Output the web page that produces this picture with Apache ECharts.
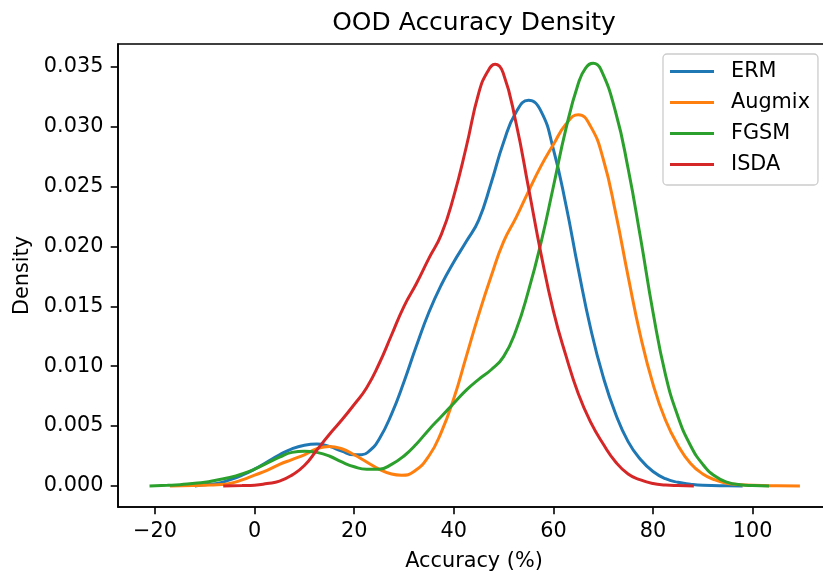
<!DOCTYPE html>
<html><head><meta charset="utf-8">
<script src="https://cdn.jsdelivr.net/npm/echarts@6/dist/echarts.min.js"></script>
<style>html,body{margin:0;padding:0;background:#fff}#c{width:823px;height:572px}</style>
</head><body><div id="c"></div>
<script>
const seriesNames = ['ERM', 'Augmix', 'FGSM', 'ISDA'];
const seriesColors = ['#1f77b4', '#ff7f0e', '#2ca02c', '#d62728'];

const ermX = [-12, -10, -7.5, -5, -2.5, 0, 2.5, 5, 7.5, 10, 12.5, 15, 17.5, 20, 21.5, 23, 25, 27.5, 30, 32.5, 35, 37.5, 40, 42.5, 45, 47.5, 50, 52.5, 55, 57.5, 60, 62.5, 65, 67.5, 70, 72.5, 75, 77.5, 80, 82.5, 85, 87.5, 90, 95, 98];
const ermY = [0, 0.0001, 0.0002, 0.0005, 0.0009, 0.0014, 0.0020, 0.0026, 0.0031, 0.0034, 0.0035, 0.0033, 0.0029, 0.0026, 0.0026, 0.0029, 0.0039, 0.0060, 0.0087, 0.0117, 0.0145, 0.0168, 0.0187, 0.0204, 0.0222, 0.0253, 0.0287, 0.0312, 0.0322, 0.0313, 0.0281, 0.0235, 0.0181, 0.0131, 0.0091, 0.0060, 0.0037, 0.0022, 0.0012, 0.0006, 0.0003, 0.00015, 0.00006, 0.00001, 0];

const augX = [-17, -12.5, -10, -7.5, -5, -2.5, 0, 2.5, 5, 7.5, 10, 12.5, 15, 17.5, 20, 22.5, 25, 27.5, 29.5, 32, 35, 37.5, 40, 42.5, 45, 47.5, 50, 52.5, 55, 57.5, 60, 62.5, 65, 67.5, 70, 72.5, 75, 77.5, 80, 82.5, 85, 87.5, 90, 92.5, 95, 100, 105, 109.5];
const augY = [0, 0.00003, 0.00006, 0.0001, 0.0002, 0.0005, 0.0009, 0.0013, 0.0018, 0.0022, 0.0026, 0.0031, 0.0033, 0.0031, 0.0026, 0.0020, 0.0014, 0.0010, 0.0009, 0.0012, 0.0025, 0.0045, 0.0073, 0.0108, 0.0143, 0.0175, 0.0204, 0.0224, 0.0246, 0.0267, 0.0285, 0.0302, 0.0310, 0.0300, 0.0273, 0.0228, 0.0175, 0.0125, 0.0085, 0.0055, 0.0034, 0.0019, 0.0010, 0.0005, 0.0002, 0.00005, 0.00001, 0];

const fgsmX = [-21.1, -17.5, -15, -12.5, -10, -7.5, -5, -2.5, 0, 2.5, 5, 7.5, 10, 12.5, 15, 17.5, 20, 22.5, 25, 27.5, 30, 32.5, 35, 37.5, 40, 42.5, 45, 47.5, 50, 52.5, 55, 57.5, 60, 62.5, 65, 66.5, 68, 69.5, 72.5, 75, 77.5, 80, 82.5, 85, 87.5, 90, 92.5, 95, 97.5, 100, 103.3];
const fgsmY = [0, 0.00005, 0.0001, 0.0002, 0.0003, 0.0005, 0.0007, 0.0010, 0.0014, 0.0019, 0.0024, 0.0028, 0.0029, 0.0028, 0.0025, 0.0020, 0.0016, 0.0014, 0.0014, 0.0018, 0.0025, 0.0035, 0.0047, 0.0058, 0.0069, 0.0080, 0.0089, 0.0097, 0.0108, 0.0130, 0.0163, 0.0203, 0.0250, 0.0298, 0.0336, 0.0349, 0.0353, 0.0348, 0.0312, 0.0265, 0.0207, 0.0145, 0.0093, 0.0058, 0.0034, 0.0018, 0.0008, 0.0003, 0.0001, 0.00003, 0];

const isdaX = [-6.3, -2.5, 0, 2.5, 5, 7.5, 10, 12.5, 15, 17.5, 20, 22.5, 25, 27.5, 30, 32.5, 35, 37.5, 40, 42.5, 45, 46.8, 48.3, 49.9, 52.5, 55, 57.5, 60, 62.5, 65, 67.5, 70, 72.5, 75, 77.5, 80, 82.5, 85, 88.2];
const isdaY = [0, 0.00003, 0.00006, 0.0002, 0.0004, 0.0009, 0.0017, 0.0030, 0.0043, 0.0055, 0.0068, 0.0082, 0.0102, 0.0126, 0.0150, 0.0169, 0.0190, 0.0210, 0.0242, 0.0283, 0.0328, 0.0346, 0.0352, 0.0345, 0.0303, 0.0249, 0.0194, 0.0146, 0.0109, 0.0077, 0.0053, 0.0035, 0.0020, 0.0010, 0.0005, 0.0002, 0.00008, 0.00003, 0];

const xTicks = [-20, 0, 20, 40, 60, 80, 100];
const yTicks = [0, 0.005, 0.01, 0.015, 0.02, 0.025, 0.03, 0.035];

const allX = [ermX, augX, fgsmX, isdaX];
const allY = [ermY, augY, fgsmY, isdaY];

const FONT = 'DejaVu Sans';
const FS = 20.8;

const chart = echarts.init(document.getElementById('c'), null, {renderer: 'canvas'});
chart.setOption({
  animation: false,
  backgroundColor: '#fff',
  title: {
    text: 'OOD Accuracy Density',
    left: 474, top: 11, textAlign: 'center', padding: 0,
    textStyle: {fontFamily: FONT, fontSize: 25, fontWeight: 'normal', color: '#000'}
  },
  legend: {
    data: seriesNames,
    orient: 'vertical',
    left: 663, top: 54,
    icon: 'rect', itemWidth: 44, itemHeight: 3, itemGap: 10,
    padding: [7, 8, 10, 7],
    backgroundColor: 'rgba(255,255,255,0.8)',
    borderColor: '#cccccc', borderWidth: 1.3, borderRadius: 4,
    textStyle: {fontFamily: FONT, fontSize: FS, color: '#000', lineHeight: 21, padding: [0, 0, 0, 12]}
  },
  grid: {
    left: 118, top: 44, width: 712, height: 463,
    outerBoundsMode: 'none', containLabel: false,
    show: true, borderColor: '#000', borderWidth: 1.6, backgroundColor: 'transparent'
  },
  xAxis: {
    type: 'value', min: -27.43, max: 115.54, splitNumber: 7,
    name: 'Accuracy (%)', nameLocation: 'middle', nameGap: 44,
    nameTextStyle: {fontFamily: FONT, fontSize: FS, color: '#000'},
    axisLine: {show: true, onZero: false, lineStyle: {color: '#000', width: 1.6}},
    axisTick: {show: true, inside: false, length: 7.3, lineStyle: {color: '#000', width: 1.6}, customValues: xTicks},
    axisLabel: {fontFamily: FONT, fontSize: FS, color: '#000', margin: 14.6, customValues: xTicks,
      formatter: v => (v < 0 ? '\u2212' + Math.abs(v) : String(v))},
    splitLine: {show: false}
  },
  yAxis: {
    type: 'value', min: -0.00176, max: 0.0369, splitNumber: 8,
    name: 'Density', nameLocation: 'middle', nameGap: 81,
    nameTextStyle: {fontFamily: FONT, fontSize: FS, color: '#000'},
    axisLine: {show: true, onZero: false, lineStyle: {color: '#000', width: 1.6}},
    axisTick: {show: true, inside: false, length: 7.3, lineStyle: {color: '#000', width: 1.6}, customValues: yTicks},
    axisLabel: {fontFamily: FONT, fontSize: FS, color: '#000', margin: 14.6, customValues: yTicks,
      formatter: v => v.toFixed(3)},
    splitLine: {show: false}
  },
  series: seriesNames.map((name, i) => ({
    name: name,
    type: 'line',
    data: allX[i].map((x, j) => [x, allY[i][j]]),
    showSymbol: false, symbol: 'none',
    smooth: 0.5,
    color: seriesColors[i],
    lineStyle: {color: seriesColors[i], width: 3},
    clip: true
  }))
});
</script>
</body></html>
